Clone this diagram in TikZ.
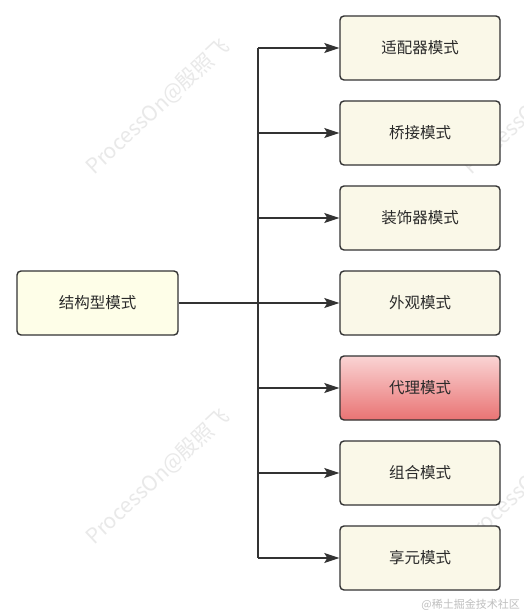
\documentclass[tikz,border=0pt]{standalone}
\usepackage{fontspec}
\newfontfamily\cjk{Noto Sans CJK SC}
\usetikzlibrary{arrows.meta}
\definecolor{boxline}{HTML}{333333}
\definecolor{boxfill}{HTML}{FAF8E8}
\definecolor{rootfill}{HTML}{FEFEE8}
\definecolor{redtop}{HTML}{FAD4D4}
\definecolor{redbot}{HTML}{E97373}
\definecolor{wm}{HTML}{E9E9E9}
\definecolor{txt}{HTML}{2A2A2A}
\tikzset{
  box/.style={draw=boxline, line width=1.4pt, rounded corners=4pt, fill=boxfill,
    minimum width=160pt, minimum height=64pt, inner sep=0pt,
    font=\cjk\fontsize{15.5}{18}\selectfont, text=txt},
  rootbox/.style={box, fill=rootfill, minimum width=161pt},
  redbox/.style={box, top color=redtop, bottom color=redbot},
  link/.style={draw=boxline, line width=1.4pt},
  arr/.style={link, -{Stealth[length=15pt, width=10pt, inset=3pt]}},
  watermark/.style={text=wm, font=\cjk\fontsize{21}{24}\selectfont, rotate=43}
}
\begin{document}
\begin{tikzpicture}[x=1pt, y=-1pt]
\useasboundingbox (0,0) rectangle (524,615);
\fill[white] (0,0) rectangle (524,615);
% watermarks
\node[watermark] (w1) at (158,107) {ProcessOn@殷照飞};
\node[watermark] (w2) at (158,477) {ProcessOn@殷照飞};
\node[watermark] (w3) at (535,107) {ProcessOn@殷照飞};
\node[watermark] (w4) at (535,477) {ProcessOn@殷照飞};
% nodes
\node[rootbox] (root) at (97.5,303) {结构型模式};
\node[box] (n1) at (420,48) {适配器模式};
\node[box] (n2) at (420,133) {桥接模式};
\node[box] (n3) at (420,218) {装饰器模式};
\node[box] (n4) at (420,303) {外观模式};
\node[redbox] (n5) at (420,388) {代理模式};
\node[box] (n6) at (420,473) {组合模式};
\node[box] (n7) at (420,558) {享元模式};
% trunk coordinates
\coordinate (t1) at (258,48);
\coordinate (t2) at (258,133);
\coordinate (t3) at (258,218);
\coordinate (t4) at (258,303);
\coordinate (t5) at (258,388);
\coordinate (t6) at (258,473);
\coordinate (t7) at (258,558);
\draw[link, line width=2.2pt] (root.east) -- (t4);
\draw[link] (t1) -- (t7);
\foreach \i in {1,...,7} { \draw[arr] (t\i) -- (n\i.west); }
% credit
\node[anchor=east, text=black!25, font=\cjk\fontsize{11}{13}\selectfont, inner sep=0pt] (credit) at (520,605) {@稀土掘金技术社区};
\end{tikzpicture}
\end{document}
